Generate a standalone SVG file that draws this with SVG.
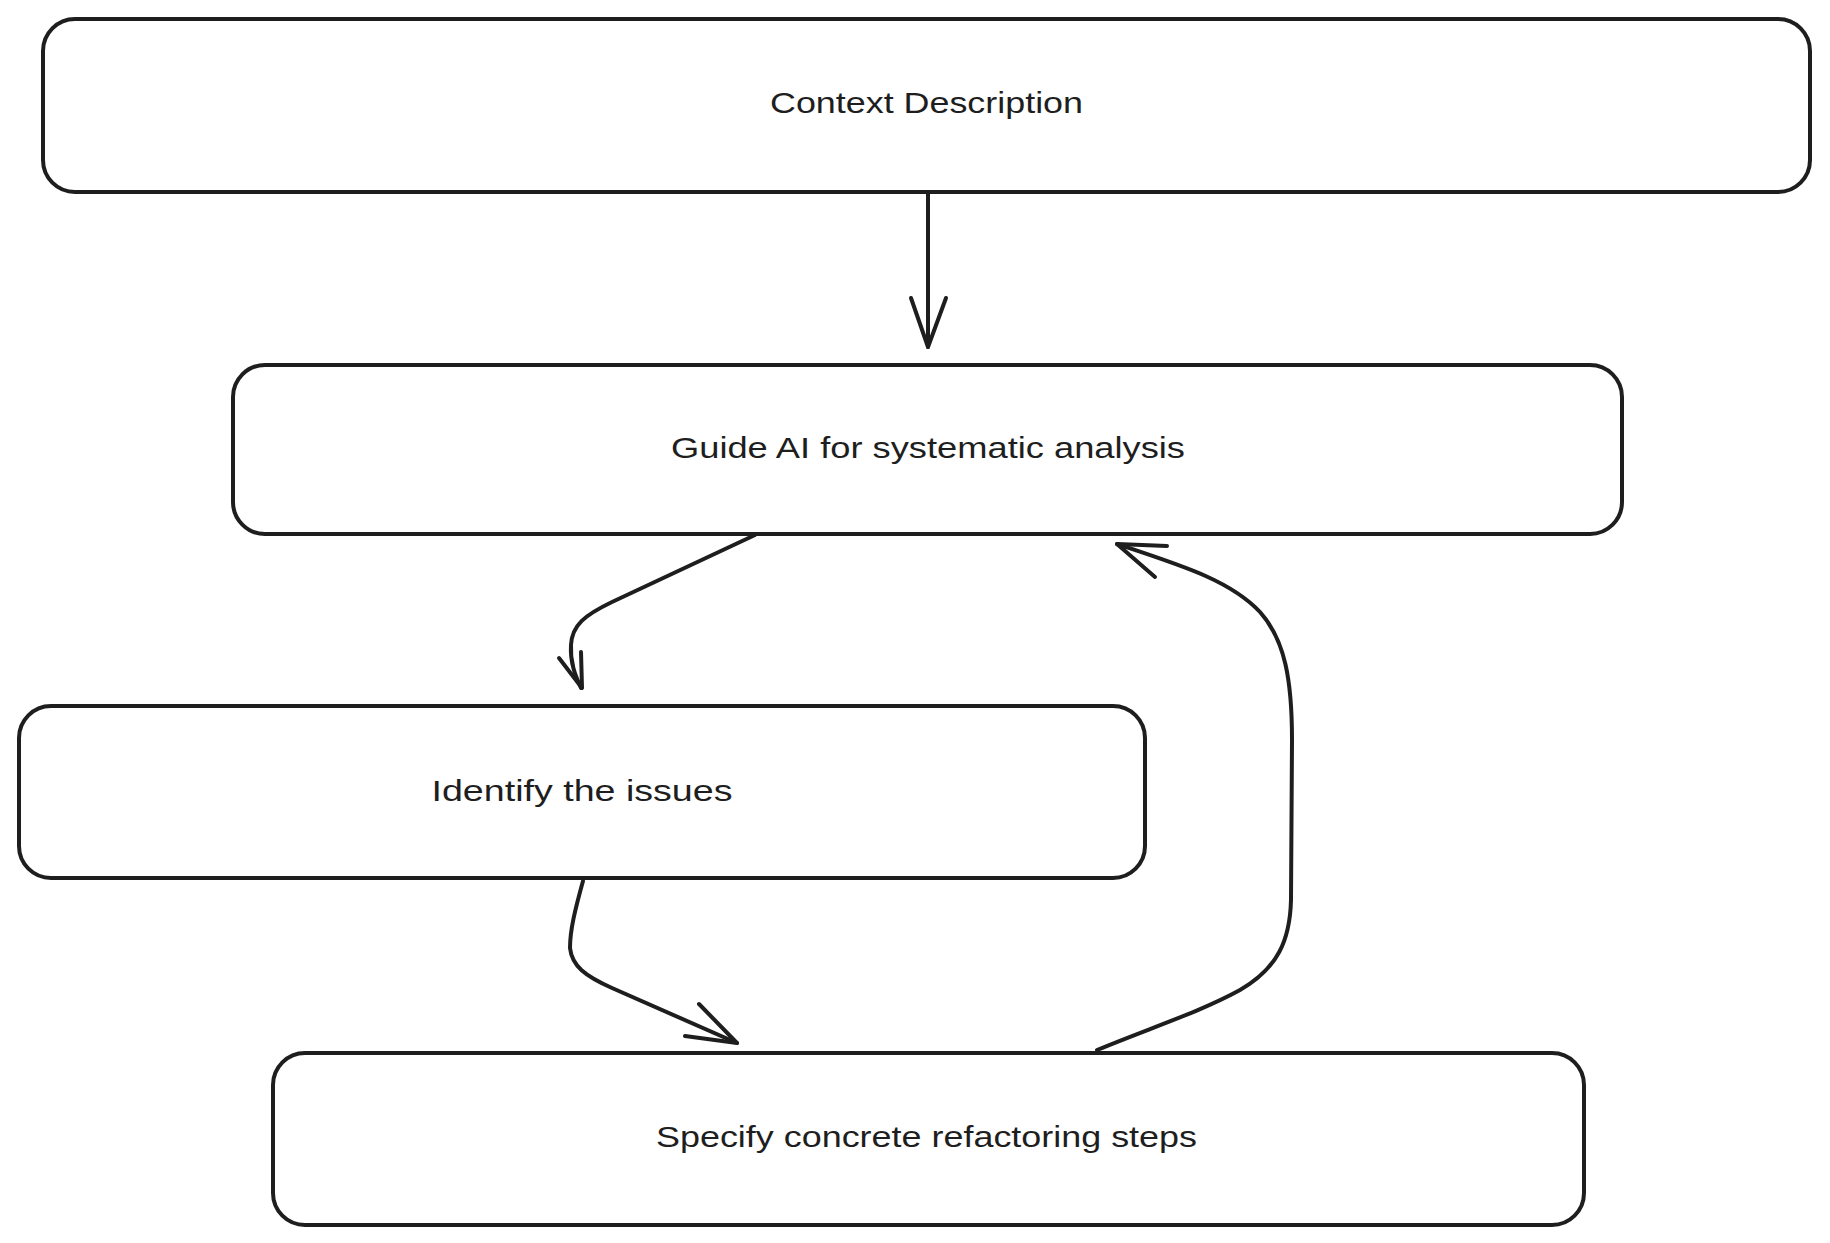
<svg xmlns="http://www.w3.org/2000/svg" width="1830" height="1243" viewBox="0 0 1830 1243">
  <style>
    .box { fill: #ffffff; stroke: #1e1e1e; stroke-width: 4; }
    .lbl { font-family: "Liberation Sans", "DejaVu Sans", sans-serif; font-size: 29px; fill: #1e1e1e; text-anchor: middle; }
    .edge { fill: none; stroke: #1e1e1e; stroke-width: 4; stroke-linecap: round; stroke-linejoin: round; }
  </style>
  <rect x="0" y="0" width="1830" height="1243" fill="#ffffff"/>

  <g id="node-context">
    <rect class="box" x="43" y="19" width="1767" height="173" rx="32" ry="32"/>
    <text class="lbl" x="926.5" y="113" textLength="313" lengthAdjust="spacingAndGlyphs">Context Description</text>
  </g>

  <g id="node-guide">
    <rect class="box" x="233" y="365" width="1389" height="169" rx="32" ry="32"/>
    <text class="lbl" x="928" y="458" textLength="514" lengthAdjust="spacingAndGlyphs">Guide AI for systematic analysis</text>
  </g>

  <g id="node-identify">
    <rect class="box" x="19" y="706" width="1126" height="172" rx="32" ry="32"/>
    <text class="lbl" x="582" y="801" textLength="301" lengthAdjust="spacingAndGlyphs">Identify the issues</text>
  </g>

  <g id="node-specify">
    <rect class="box" x="273" y="1053" width="1311" height="172" rx="32" ry="32"/>
    <text class="lbl" x="926.5" y="1147" textLength="541" lengthAdjust="spacingAndGlyphs">Specify concrete refactoring steps</text>
  </g>

  <g id="connectors">
    <!-- Context -> Guide -->
    <path class="edge" d="M928,193 L928,347"/>
    <path class="edge" d="M911,298 L928,347 L946,298"/>

    <!-- Guide -> Identify -->
    <path class="edge" d="M755,535 L612,602 C585,615 572,625 571,645 C570,662 575,675 581,688"/>
    <path class="edge" d="M559,658 L582,688 L581,652"/>

    <!-- Identify -> Specify -->
    <path class="edge" d="M583,881 C575,910 570,930 570,948 C572,966 585,976 612,988 L737,1043"/>
    <path class="edge" d="M699,1004 L737,1043 L685,1036"/>

    <!-- Specify -> Guide -->
    <path class="edge" d="M1097,1050 C1150,1028 1200,1012 1240,990 C1278,968 1290,940 1291,900 L1292,740 C1292,680 1285,640 1260,612 C1230,580 1180,565 1117,544"/>
    <path class="edge" d="M1167,546 L1117,544 L1155,577"/>
  </g>
</svg>
